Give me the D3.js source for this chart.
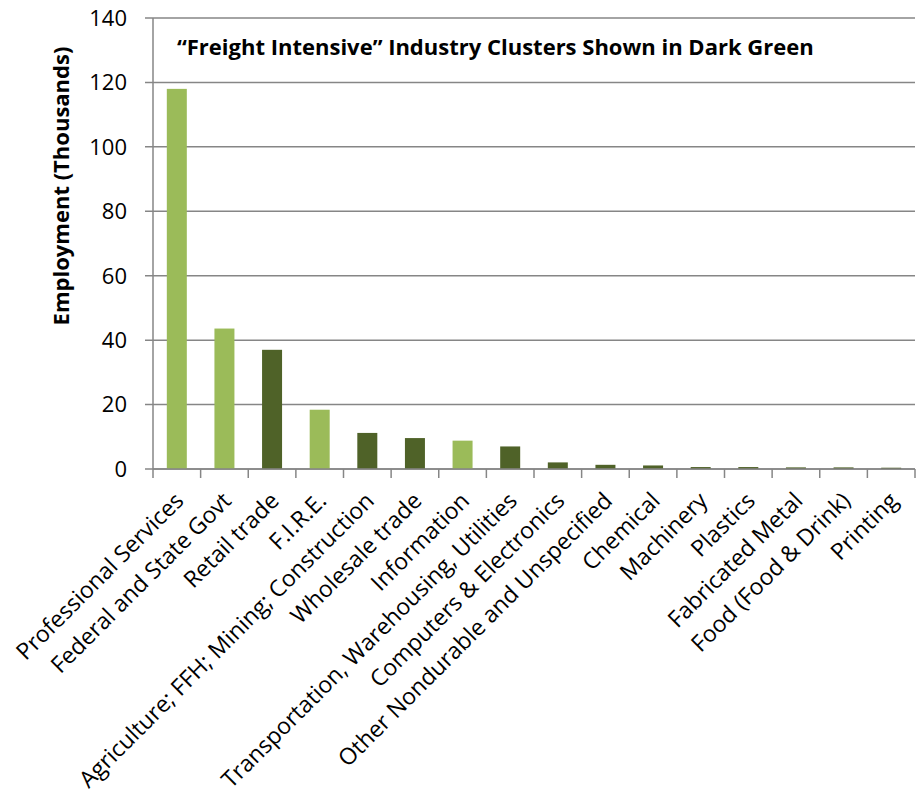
<!DOCTYPE html>
<html>
<head>
<meta charset="utf-8">
<script src="https://cdn.jsdelivr.net/npm/d3@7"></script>
<style>
  html, body { margin: 0; padding: 0; background: #fff; }
  text { font-family: "Open Sans", "Liberation Sans", sans-serif; fill: #000; }
</style>
</head>
<body>
<svg id="chart" width="920" height="798"></svg>
<script>
// Employment by industry cluster (thousands)
const categories = [
  "Professional Services", "Federal and State Govt", "Retail trade", "F.I.R.E.",
  "Agriculture; FFH; Mining; Construction", "Wholesale trade", "Information",
  "Transportation, Warehousing, Utilities", "Computers & Electronics",
  "Other Nondurable and Unspecified", "Chemical", "Machinery", "Plastics",
  "Fabricated Metal", "Food (Food & Drink)", "Printing"
];
const employment = [118, 43.6, 37, 18.4, 11.2, 9.6, 8.8, 7.0, 2.05, 1.3, 1.1, 0.6, 0.6, 0.5, 0.5, 0.4];
// true = freight intensive cluster
const freightIntensive = [false, false, true, false, true, true, false, true, true, true, true, true, true, true, true, true];
const yTicks = [0, 20, 40, 60, 80, 100, 120, 140];

const chartTitle = "\u201CFreight Intensive\u201D Industry Clusters Shown in Dark Green";
const yTitle = "Employment (Thousands)";

const colorLight = "#9BBB59";
const colorDark = "#4F6228";

const svg = d3.select("#chart");
const margin = { left: 153, right: 5, top: 18, bottom: 329 };
const W = 920, H = 798;

const x = d3.scaleBand()
  .domain(categories)
  .range([margin.left, W - margin.right])
  .paddingInner(0.58)
  .paddingOuter(0.29);

const y = d3.scaleLinear()
  .domain([0, 140])
  .range([H - margin.bottom, margin.top]);

// horizontal gridlines
svg.append("g")
  .selectAll("line")
  .data(yTicks)
  .join("line")
  .attr("x1", margin.left - 8)
  .attr("x2", W - margin.right)
  .attr("y1", d => y(d))
  .attr("y2", d => y(d))
  .attr("stroke", "#868686")
  .attr("stroke-width", 1.5);

// y tick labels
svg.append("g")
  .selectAll("text")
  .data(yTicks)
  .join("text")
  .attr("x", margin.left - 26)
  .attr("y", d => y(d))
  .attr("dy", "0.36em")
  .attr("text-anchor", "end")
  .attr("font-size", 22)
  .text(d => d);

// bars
svg.append("g")
  .selectAll("rect")
  .data(categories)
  .join("rect")
  .attr("x", d => x(d))
  .attr("width", x.bandwidth())
  .attr("y", (d, i) => y(employment[i]))
  .attr("height", (d, i) => y(0) - y(employment[i]))
  .attr("fill", (d, i) => freightIntensive[i] ? colorDark : colorLight);

// y axis line
svg.append("line")
  .attr("x1", margin.left).attr("x2", margin.left)
  .attr("y1", y(140)).attr("y2", y(0))
  .attr("stroke", "#868686").attr("stroke-width", 1.5);

// x axis with category separators
const step = x.step();
const xAxis = svg.append("g");
xAxis.append("line")
  .attr("x1", margin.left).attr("x2", W - margin.right)
  .attr("y1", y(0)).attr("y2", y(0))
  .attr("stroke", "#868686").attr("stroke-width", 1.5);
xAxis.selectAll("line.tick")
  .data(d3.range(categories.length + 1))
  .join("line")
  .attr("class", "tick")
  .attr("x1", i => margin.left + i * step)
  .attr("x2", i => margin.left + i * step)
  .attr("y1", y(0)).attr("y2", y(0) + 9)
  .attr("stroke", "#868686").attr("stroke-width", 1.5);

// category labels, rotated
xAxis.selectAll("text")
  .data(categories)
  .join("text")
  .attr("transform", d => `translate(${x(d) + x.bandwidth() / 2 + 11},${y(0) + 19}) rotate(-45)`)
  .attr("text-anchor", "end")
  .attr("dx", -12)
  .attr("dy", "0.35em")
  .attr("font-size", 23)
  .text(d => d);

// y axis title
svg.append("text")
  .attr("transform", `translate(69,186) rotate(-90)`)
  .attr("text-anchor", "middle")
  .attr("font-size", 22)
  .attr("font-weight", "bold")
  .text(yTitle);

// chart title
svg.append("text")
  .attr("x", 177)
  .attr("y", 55)
  .attr("font-size", 22)
  .attr("font-weight", "bold")
  .text(chartTitle);
</script>
</body>
</html>
